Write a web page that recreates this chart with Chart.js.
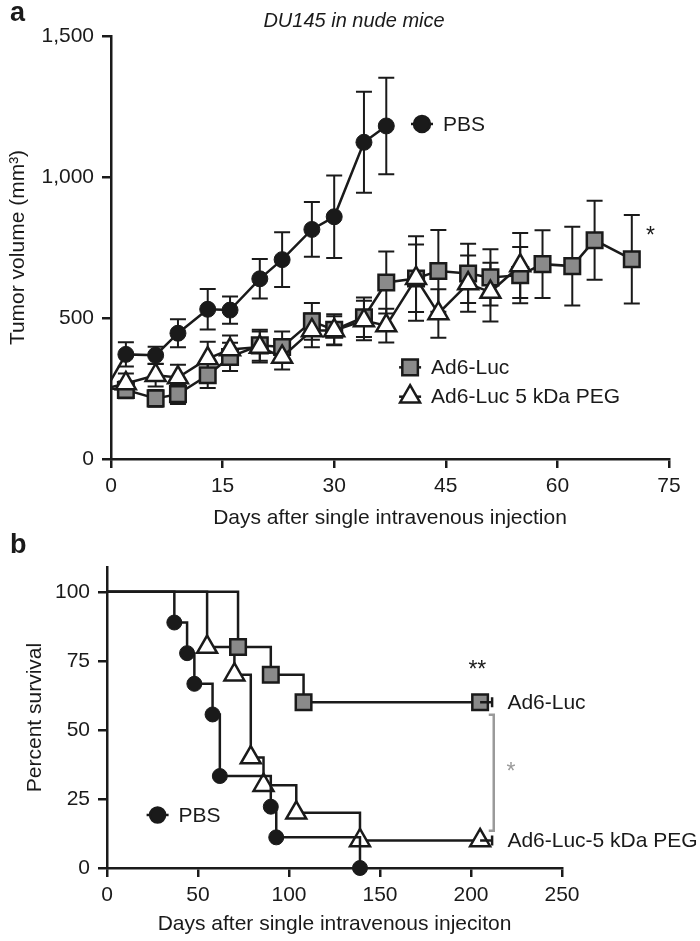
<!DOCTYPE html>
<html><head><meta charset="utf-8">
<script src="https://cdn.jsdelivr.net/npm/chart.js@4.4.1/dist/chart.umd.min.js"></script>
<style>
html,body{margin:0;padding:0;background:#fff;}
#wrap{position:relative;width:700px;height:941px;overflow:hidden;}
canvas{position:absolute;left:0;}
</style></head><body>
<div id="wrap">
<canvas id="c1" width="700" height="540" style="top:0px"></canvas>
<canvas id="c2" width="700" height="421" style="top:520px"></canvas>
</div>
<script>
// ---------- Panel a: tumor volume ----------
const volTicksX = [0, 15, 30, 45, 60, 75];
const volTicksY = [0, 500, 1000, 1500];

const pbsDays = [0, 2, 6, 9, 13, 16, 20, 23, 27, 30, 34, 37];
const pbsVol  = [280, 371, 368, 446, 531, 528, 639, 707, 814, 859, 1123, 1181];
const pbsErr  = [0, 43, 30, 50, 72, 48, 70, 97, 97, 146, 179, 171];

const lucDays = [0, 2, 6, 9, 13, 16, 20, 23, 27, 30, 34, 37, 41, 44, 48, 51, 55, 58, 62, 65, 70];
const lucVol  = [250, 245, 215, 230, 297, 362, 403, 397, 488, 458, 503, 626, 640, 667, 658, 644, 652, 691, 684, 776, 708];
const lucErr  = [0, 30, 30, 35, 45, 50, 55, 55, 65, 55, 70, 110, 150, 145, 105, 100, 100, 120, 140, 140, 157];

const pegDays = [0, 2, 6, 9, 13, 16, 20, 23, 27, 30, 34, 37, 41, 44, 48, 51, 55];
const pegVol  = [255, 268, 297, 289, 356, 388, 397, 362, 456, 456, 491, 473, 641, 516, 622, 592, 686];
const pegErr  = [0, 35, 40, 45, 60, 50, 55, 45, 60, 50, 70, 60, 120, 86, 100, 104, 115];

// ---------- Panel b: survival ----------
const survTicksX = [0, 50, 100, 150, 200, 250];
const survTicksY = [0, 25, 50, 75, 100];

const survPbsDays = [0, 37, 44, 48, 58, 62, 90, 93, 139];
const survPbs     = [100, 88.9, 77.8, 66.7, 55.6, 33.3, 22.2, 11.1, 0];

const survLucDays = [0, 72, 90, 108, 205];
const survLuc     = [100, 80, 70, 60, 60];

const survPegDays = [0, 55, 70, 79, 86, 104, 139, 205];
const survPeg     = [100, 80, 70, 40, 30, 20, 10, 10];

const FONT = "'Liberation Sans', Arial, Helvetica, sans-serif";
const INK = '#1a1a1a';
const GRAYFILL = '#8a8a8a';
const FS = 21;
Chart.defaults.font.family = FONT;
Chart.defaults.font.size = FS;
Chart.defaults.color = INK;

function pts(xs, ys) { return xs.map((x, i) => ({x: x, y: ys[i]})); }
function radii(xs, r, hideFirst) { return xs.map((x, i) => (hideFirst && i === 0) ? 0 : r); }

function axisCommon(extra) {
  return Object.assign({
    type: 'linear',
    grid: {display: true, drawOnChartArea: false, drawTicks: true, tickLength: 9, color: INK, lineWidth: 2.5},
    border: {display: true, color: INK, width: 2.5},
  }, extra);
}

function drawMarker(ctx, style, x, y, r, fill) {
  ctx.save();
  ctx.lineWidth = 2.5; ctx.strokeStyle = INK; ctx.fillStyle = fill;
  ctx.beginPath();
  if (style === 'circle') { ctx.arc(x, y, r, 0, Math.PI * 2); }
  else if (style === 'rect') { const s = r * Math.SQRT1_2; ctx.rect(x - s, y - s, 2 * s, 2 * s); }
  else if (style === 'triangle') {
    let a = 0;
    ctx.moveTo(x + Math.sin(a) * r, y - Math.cos(a) * r); a += 2 * Math.PI / 3;
    ctx.lineTo(x + Math.sin(a) * r, y - Math.cos(a) * r); a += 2 * Math.PI / 3;
    ctx.lineTo(x + Math.sin(a) * r, y - Math.cos(a) * r);
    ctx.closePath();
  }
  ctx.fill(); ctx.stroke();
  ctx.restore();
}
function legendItem(ctx, style, x, y, r, fill, label) {
  ctx.save();
  ctx.strokeStyle = INK; ctx.lineWidth = 2.5;
  ctx.beginPath(); ctx.moveTo(x - 11, y); ctx.lineTo(x + 11, y); ctx.stroke();
  ctx.restore();
  drawMarker(ctx, style, x, y, r, fill);
  ctx.save();
  ctx.fillStyle = INK; ctx.font = FS + 'px ' + FONT; ctx.textAlign = 'left'; ctx.textBaseline = 'middle';
  ctx.fillText(label, x + 21, y + 1);
  ctx.restore();
}

const errPlugin = {
  id: 'errBars',
  beforeDatasetsDraw(chart) {
    const ctx = chart.ctx, xs = chart.scales.x, ys = chart.scales.y;
    const sets = [[pegDays, pegVol, pegErr], [lucDays, lucVol, lucErr], [pbsDays, pbsVol, pbsErr]];
    ctx.save(); ctx.strokeStyle = INK; ctx.lineWidth = 2;
    sets.forEach(([d, v, e]) => {
      d.forEach((day, i) => {
        if (!e[i]) return;
        const px = xs.getPixelForValue(day);
        const hi = ys.getPixelForValue(v[i] + e[i]);
        const lo = ys.getPixelForValue(v[i] - e[i]);
        ctx.beginPath();
        ctx.moveTo(px, hi); ctx.lineTo(px, lo);
        ctx.moveTo(px - 8, hi); ctx.lineTo(px + 8, hi);
        ctx.moveTo(px - 8, lo); ctx.lineTo(px + 8, lo);
        ctx.stroke();
      });
    });
    ctx.restore();
  }
};

const annotA = {
  id: 'annotA',
  afterDraw(chart) {
    const ctx = chart.ctx, xs = chart.scales.x, ys = chart.scales.y;
    ctx.save();
    ctx.fillStyle = INK;
    ctx.font = 'bold 27px ' + FONT; ctx.textAlign = 'left'; ctx.textBaseline = 'alphabetic';
    ctx.fillText('a', 10, 21);
    ctx.font = 'italic 20px ' + FONT; ctx.textAlign = 'center'; ctx.textBaseline = 'middle';
    ctx.fillText('DU145 in nude mice', 354, 21);
    ctx.font = '23px ' + FONT;
    ctx.fillText('*', xs.getPixelForValue(72.5), ys.getPixelForValue(790));
    ctx.restore();
    legendItem(ctx, 'circle', xs.getPixelForValue(41.8), ys.getPixelForValue(1188), 8, INK, 'PBS');
    legendItem(ctx, 'rect', xs.getPixelForValue(40.2), ys.getPixelForValue(325), 11, GRAYFILL, 'Ad6-Luc');
    legendItem(ctx, 'triangle', xs.getPixelForValue(40.2), ys.getPixelForValue(221), 11.5, '#fff', 'Ad6-Luc 5 kDa PEG');
  }
};

new Chart(document.getElementById('c1'), {
  type: 'line',
  data: {
    datasets: [
      {label: 'PBS', data: pts(pbsDays, pbsVol), borderColor: INK, borderWidth: 2.5,
       pointStyle: 'circle', pointRadius: radii(pbsDays, 8, true), pointBackgroundColor: INK,
       pointBorderColor: INK, pointBorderWidth: 1, clip: false},
      {label: 'Ad6-Luc 5 kDa PEG', data: pts(pegDays, pegVol), borderColor: INK, borderWidth: 2.5,
       pointStyle: 'triangle', pointRadius: radii(pegDays, 11.5, true), pointBackgroundColor: '#fff',
       pointBorderColor: INK, pointBorderWidth: 2.5, clip: false},
      {label: 'Ad6-Luc', data: pts(lucDays, lucVol), borderColor: INK, borderWidth: 2.5,
       pointStyle: 'rect', pointRadius: radii(lucDays, 11, true), pointBackgroundColor: GRAYFILL,
       pointBorderColor: INK, pointBorderWidth: 2.5, clip: false}
    ]
  },
  options: {
    responsive: false, animation: false, devicePixelRatio: 1,
    layout: {padding: {top: 36, right: 31, left: 0, bottom: 0}},
    plugins: {legend: {display: false}, tooltip: {enabled: false}},
    scales: {
      x: axisCommon({
        min: 0, max: 75,
        afterBuildTicks: s => { s.ticks = volTicksX.map(v => ({value: v})); },
        ticks: {padding: 6, font: {size: FS}},
        title: {display: true, text: 'Days after single intravenous injection', font: {size: FS}, padding: {top: 0, bottom: 9}},
        afterFit: s => { s.height = 81; }
      }),
      y: axisCommon({
        min: 0, max: 1500,
        afterBuildTicks: s => { s.ticks = volTicksY.map(v => ({value: v})); },
        ticks: {padding: 8, font: {size: FS}, callback: v => v.toLocaleString('en-US')},
        title: {display: true, text: 'Tumor volume (mm³)', font: {size: FS}, padding: {top: 6, bottom: 0}},
        afterFit: s => { s.width = 111; }
      })
    }
  },
  plugins: [errPlugin, annotA]
});

// ---------- Panel b chart ----------
const annotB = {
  id: 'annotB',
  afterDatasetsDraw(chart) {
    const ctx = chart.ctx, xs = chart.scales.x, ys = chart.scales.y;
    ctx.save(); ctx.strokeStyle = INK; ctx.lineWidth = 2.5;
    [[205, 60], [205, 10]].forEach(([d, v]) => {
      const px = xs.getPixelForValue(d), py = ys.getPixelForValue(v);
      ctx.beginPath(); ctx.moveTo(px, py); ctx.lineTo(px + 12, py);
      ctx.moveTo(px + 12, py - 5); ctx.lineTo(px + 12, py + 5); ctx.stroke();
    });
    ctx.restore();
  },
  afterDraw(chart) {
    const ctx = chart.ctx, xs = chart.scales.x, ys = chart.scales.y;
    ctx.save();
    ctx.fillStyle = INK;
    ctx.font = 'bold 27px ' + FONT; ctx.textAlign = 'left'; ctx.textBaseline = 'alphabetic';
    ctx.fillText('b', 10, 33);
    ctx.font = FS + 'px ' + FONT; ctx.textAlign = 'left'; ctx.textBaseline = 'middle';
    ctx.fillText('Ad6-Luc', xs.getPixelForValue(220), ys.getPixelForValue(60) + 1);
    ctx.fillText('Ad6-Luc-5 kDa PEG', xs.getPixelForValue(220), ys.getPixelForValue(10) + 1);
    ctx.font = '23px ' + FONT; ctx.textAlign = 'center';
    ctx.fillText('**', xs.getPixelForValue(203.5), ys.getPixelForValue(71.5));
    const bx = xs.getPixelForValue(212.5);
    const by1 = ys.getPixelForValue(55.5), by2 = ys.getPixelForValue(13.5);
    ctx.strokeStyle = '#9a9a9a'; ctx.lineWidth = 2.5;
    ctx.beginPath(); ctx.moveTo(bx - 5, by1); ctx.lineTo(bx, by1); ctx.lineTo(bx, by2); ctx.lineTo(bx - 5, by2); ctx.stroke();
    ctx.fillStyle = '#9a9a9a';
    ctx.fillText('*', xs.getPixelForValue(222), ys.getPixelForValue(34.5));
    ctx.restore();
    legendItem(ctx, 'circle', xs.getPixelForValue(27.8), ys.getPixelForValue(19.2), 7.5, INK, 'PBS');
  }
};

new Chart(document.getElementById('c2'), {
  type: 'line',
  data: {
    datasets: [
      {label: 'PBS', data: pts(survPbsDays, survPbs), stepped: 'before', borderColor: INK, borderWidth: 2.5,
       pointStyle: 'circle', pointRadius: radii(survPbsDays, 7.5, true), pointBackgroundColor: INK,
       pointBorderColor: INK, pointBorderWidth: 1, clip: false},
      {label: 'Ad6-Luc', data: pts(survLucDays, survLuc), stepped: 'before', borderColor: INK, borderWidth: 2.5,
       pointStyle: 'rect', pointRadius: radii(survLucDays, 11, true), pointBackgroundColor: GRAYFILL,
       pointBorderColor: INK, pointBorderWidth: 2.5, clip: false},
      {label: 'Ad6-Luc-5 kDa PEG', data: pts(survPegDays, survPeg), stepped: 'before', borderColor: INK, borderWidth: 2.5,
       pointStyle: 'triangle', pointRadius: radii(survPegDays, 11.5, true), pointBackgroundColor: '#fff',
       pointBorderColor: INK, pointBorderWidth: 2.5, clip: false}
    ]
  },
  options: {
    responsive: false, animation: false, devicePixelRatio: 1,
    layout: {padding: {top: 47, right: 138, left: 0, bottom: 0}},
    plugins: {legend: {display: false}, tooltip: {enabled: false}},
    scales: {
      x: axisCommon({
        min: 0, max: 250,
        afterBuildTicks: s => { s.ticks = survTicksX.map(v => ({value: v})); },
        ticks: {padding: 6, font: {size: FS}},
        title: {display: true, text: 'Days after single intravenous injeciton', font: {size: FS}, padding: {top: 0, bottom: 4}},
        afterFit: s => { s.height = 73; }
      }),
      y: axisCommon({
        min: 0, max: 109,
        afterBuildTicks: s => { s.ticks = survTicksY.map(v => ({value: v})); },
        ticks: {padding: 8, font: {size: FS}},
        title: {display: true, text: 'Percent survival', font: {size: FS}, padding: {top: 23, bottom: 0}},
        afterFit: s => { s.width = 107; }
      })
    }
  },
  plugins: [annotB]
});
</script>
</body></html>
